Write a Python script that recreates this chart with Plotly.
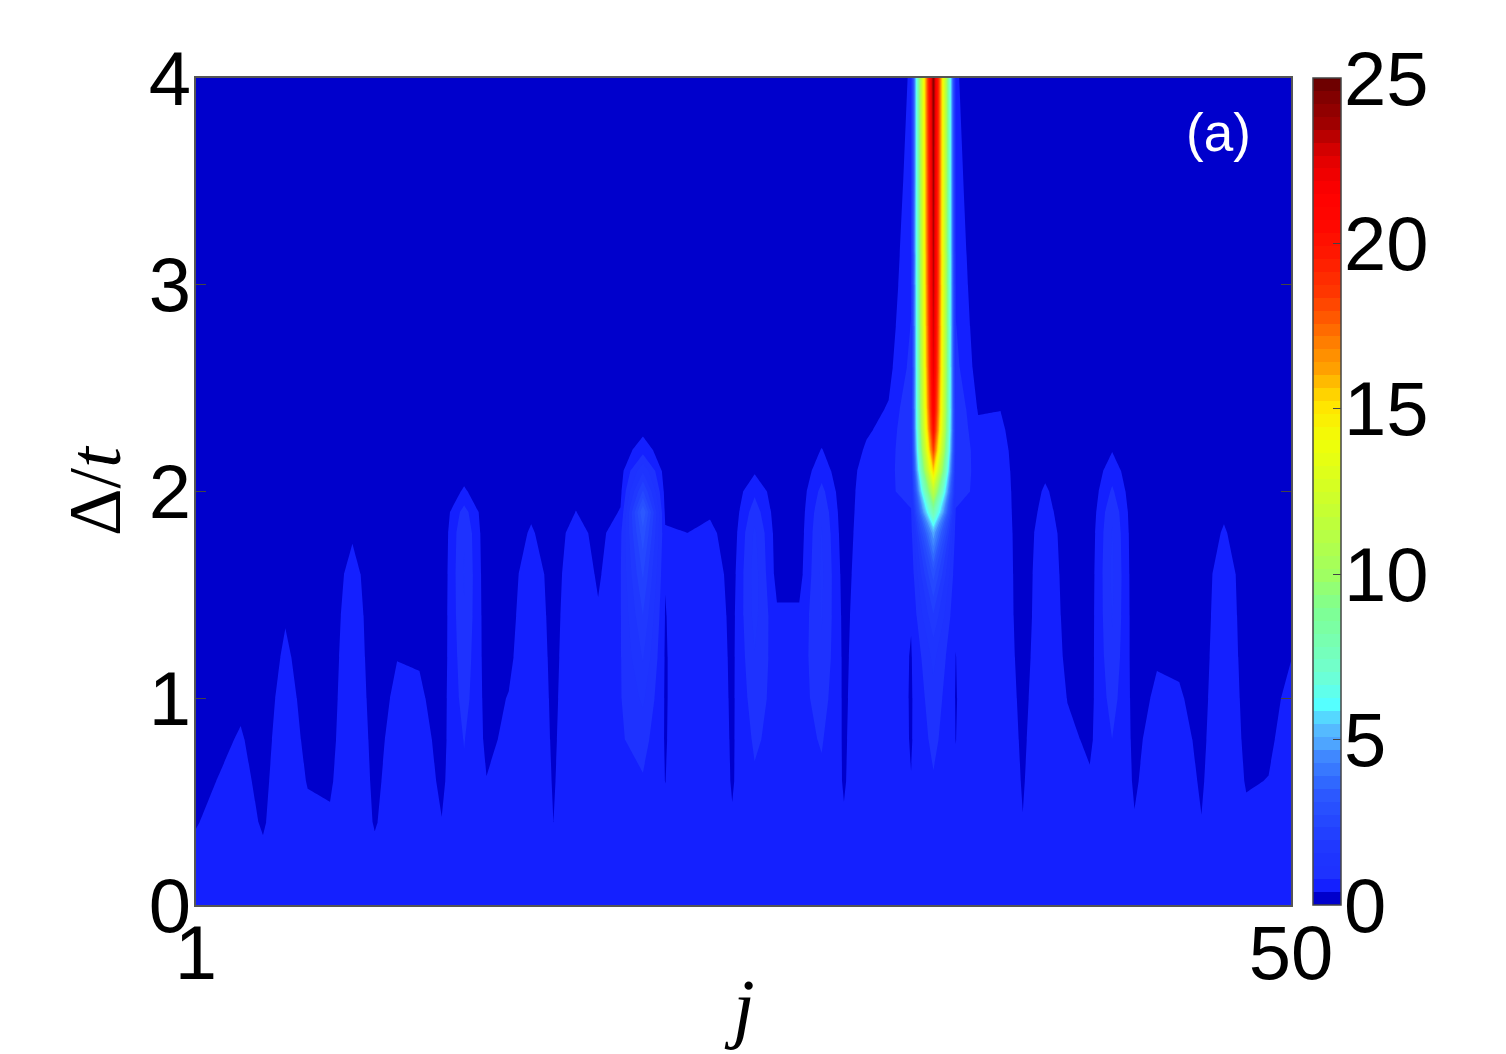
import numpy as np
import plotly.graph_objects as go

sites = list(range(1, 51))
delta = [0, .2, .4, .6, .8, 1.0, 1.2, 1.4, 1.6, 1.8, 1.9, 2.0, 2.1, 2.2, 2.3, 2.4, 2.6, 2.8, 3.0, 3.5, 4.0]

# one list per site j, values read at each delta above
site_values = [
 [.6,.5,.37,.3,.25,.2,.16,.12,.1,.08,.07,.06,.06,.05,.05,.05,.04,.04,.03,.03,.02],
 [.6,.58,.5,.4,.32,.27,.22,.17,.13,.1,.09,.08,.07,.06,.06,.05,.05,.04,.04,.03,.02],
 [.6,.6,.55,.48,.42,.33,.26,.2,.15,.12,.1,.09,.08,.07,.06,.06,.05,.04,.04,.03,.02],
 [.6,.48,.35,.3,.25,.2,.15,.11,.09,.07,.06,.06,.05,.05,.04,.04,.04,.03,.03,.02,.02],
 [.6,.62,.64,.63,.6,.55,.46,.36,.27,.2,.17,.15,.13,.11,.1,.09,.08,.06,.05,.04,.03],
 [.6,.58,.48,.37,.3,.24,.2,.16,.13,.1,.09,.08,.07,.06,.06,.05,.05,.04,.04,.03,.02],
 [.6,.55,.44,.34,.27,.22,.18,.14,.11,.09,.08,.07,.07,.06,.05,.05,.04,.04,.03,.03,.02],
 [.62,.64,.68,.7,.72,.72,.7,.66,.56,.33,.28,.22,.18,.14,.12,.1,.08,.07,.06,.04,.03],
 [.6,.5,.36,.31,.26,.2,.15,.12,.1,.08,.07,.06,.06,.05,.05,.04,.04,.03,.03,.02,.02],
 [.6,.6,.6,.58,.55,.48,.38,.28,.2,.15,.13,.11,.1,.09,.08,.07,.06,.05,.05,.03,.02],
 [.6,.6,.59,.57,.53,.45,.36,.26,.19,.14,.12,.11,.1,.09,.08,.07,.06,.05,.05,.03,.02],
 [.6,.53,.4,.33,.28,.23,.18,.14,.11,.09,.07,.06,.06,.05,.05,.04,.04,.03,.03,.02,.02],
 [.62,.63,.66,.72,.8,.95,1.05,1.15,1.2,1.15,.95,.45,.22,.15,.12,.1,.08,.07,.06,.04,.03],
 [.6,.58,.5,.4,.32,.26,.21,.17,.13,.1,.09,.08,.07,.06,.06,.05,.05,.04,.04,.03,.02],
 [.6,.6,.58,.52,.46,.41,.3,.24,.18,.14,.12,.11,.1,.09,.08,.07,.06,.05,.05,.03,.02],
 [.62,.64,.68,.71,.73,.74,.73,.7,.66,.44,.32,.26,.2,.15,.12,.1,.08,.07,.06,.04,.03],
 [.6,.53,.39,.36,.33,.3,.27,.24,.2,.14,.1,.08,.06,.05,.05,.04,.04,.03,.03,.02,.02],
 [.62,.64,.68,.71,.73,.74,.74,.73,.7,.6,.4,.28,.2,.15,.12,.1,.08,.07,.06,.04,.03],
 [.6,.61,.62,.62,.6,.57,.52,.44,.33,.22,.18,.15,.13,.11,.1,.08,.07,.06,.05,.04,.03],
 [.62,.64,.68,.71,.74,.76,.76,.76,.76,.7,.42,.3,.22,.16,.13,.11,.09,.07,.06,.04,.03],
 [.62,.64,.68,.74,.95,1.25,1.6,1.95,2.4,3.0,3.5,2.4,1.5,.6,.28,.2,.13,.1,.08,.05,.04],
 [.6,.58,.48,.385,.36,.35,.35,.37,.41,.44,.31,.25,.19,.14,.12,.1,.08,.07,.06,.04,.03],
 [.62,.64,.68,.71,.73,.74,.74,.72,.62,.39,.3,.24,.18,.14,.12,.1,.08,.07,.06,.04,.03],
 [.62,.64,.68,.71,.73,.74,.74,.73,.68,.5,.33,.25,.19,.15,.12,.1,.08,.07,.06,.04,.03],
 [.6,.55,.42,.36,.34,.32,.3,.27,.22,.15,.12,.1,.09,.08,.07,.06,.05,.05,.04,.03,.02],
 [.62,.63,.66,.72,.85,1.0,1.15,1.3,1.35,1.25,1.0,.7,.33,.2,.14,.11,.09,.07,.06,.04,.03],
 [.6,.62,.64,.64,.62,.6,.55,.46,.24,.2,.17,.14,.12,.1,.09,.08,.07,.06,.05,.04,.03],
 [.6,.62,.64,.64,.62,.6,.55,.46,.24,.18,.16,.14,.12,.1,.09,.08,.07,.06,.05,.04,.03],
 [.62,.63,.66,.7,.82,.98,1.12,1.2,1.25,1.2,1.1,.9,.61,.41,.25,.16,.11,.08,.06,.04,.03],
 [.6,.55,.42,.36,.34,.32,.3,.27,.22,.15,.12,.1,.09,.08,.07,.06,.05,.05,.04,.03,.02],
 [.62,.64,.66,.69,.71,.72,.72,.72,.72,.72,.7,.67,.6,.45,.33,.26,.18,.13,.1,.06,.04],
 [.62,.63,.66,.69,.71,.72,.72,.72,.72,.72,.72,.7,.66,.6,.53,.42,.28,.2,.16,.1,.07],
 [.6,.58,.5,.4,.36,.35,.36,.42,.5,.62,.74,.96,1.1,1.2,1.2,1.15,.9,.8,.7,.55,.45],
 [.62,.63,.66,.74,.9,1.05,1.28,1.9,2.9,5,8,11.5,15.5,18.5,20.5,21.5,22.5,23,23.4,23.9,24.4],
 [.6,.58,.52,.44,.385,.37,.385,.43,.5,.62,.74,.96,1.1,1.2,1.2,1.15,.9,.8,.7,.55,.45],
 [.62,.64,.66,.69,.71,.72,.72,.72,.72,.72,.7,.68,.64,.58,.46,.36,.22,.16,.13,.08,.06],
 [.62,.64,.66,.69,.71,.72,.72,.72,.72,.72,.7,.68,.64,.58,.48,.38,.2,.15,.12,.08,.05],
 [.6,.54,.4,.36,.32,.27,.21,.16,.14,.11,.09,.08,.07,.06,.06,.05,.05,.04,.03,.03,.02],
 [.62,.64,.67,.7,.72,.73,.73,.72,.71,.66,.55,.45,.3,.18,.13,.1,.08,.07,.06,.04,.03],
 [.6,.6,.58,.52,.47,.38,.3,.25,.21,.17,.14,.12,.1,.09,.08,.07,.06,.05,.05,.03,.02],
 [.6,.58,.52,.43,.33,.27,.23,.2,.17,.14,.11,.09,.08,.07,.06,.05,.05,.04,.04,.03,.02],
 [.62,.63,.66,.7,.78,.95,1.1,1.2,1.25,1.2,1.1,.85,.6,.37,.25,.16,.11,.08,.06,.04,.03],
 [.6,.54,.41,.35,.31,.25,.19,.16,.13,.11,.09,.08,.07,.06,.06,.05,.05,.04,.03,.03,.02],
 [.6,.6,.59,.57,.53,.45,.36,.26,.19,.14,.12,.11,.1,.09,.08,.07,.06,.05,.05,.03,.02],
 [.6,.6,.58,.56,.52,.43,.33,.25,.18,.13,.12,.11,.1,.09,.08,.07,.06,.05,.05,.03,.02],
 [.6,.53,.4,.35,.3,.25,.2,.15,.12,.1,.08,.07,.06,.05,.05,.04,.04,.03,.03,.02,.02],
 [.62,.64,.67,.7,.72,.73,.73,.72,.68,.44,.32,.25,.19,.14,.12,.1,.08,.07,.06,.04,.03],
 [.6,.56,.47,.36,.3,.25,.2,.16,.13,.1,.09,.08,.07,.06,.06,.05,.05,.04,.04,.03,.02],
 [.6,.58,.5,.4,.33,.28,.23,.18,.14,.11,.1,.09,.08,.07,.06,.05,.05,.04,.04,.03,.02],
 [.6,.6,.6,.58,.55,.48,.38,.28,.2,.15,.13,.11,.1,.09,.08,.07,.06,.05,.05,.03,.02],
]

bar_ticks = [0, 5, 10, 15, 20, 25]
y_ticks = [0, 1, 2, 3, 4]
x_ticks = [1, 50]

color_values = [0, .195, .586, .977, 1.37, 1.76, 2.15, 2.54, 2.93, 3.32, 3.71, 4.1, 4.49, 4.88, 5.27, 5.66, 6.05,
                7, 8, 9, 10, 12, 14, 15, 15.5, 16.2, 16.8, 17.6, 18.5, 19.5, 20.5, 21.5, 22.4, 23, 23.6, 24.3, 25]
color_hex = ["#0000cc", "#0000cc", "#1420ff", "#1e32ff", "#1e34ff", "#2038ff", "#2240ff", "#2548ff", "#2850ff",
             "#2c58ff", "#3068ff", "#3878ff", "#4088ff", "#4ea5ff", "#55baff", "#55d8ff", "#55ffff",
             "#70ffd0", "#78ffb0", "#80ff90", "#a0ff60", "#c8ff30", "#f0ff08", "#ffe800", "#ffd000", "#ffa000",
             "#ff8800", "#ff6000", "#ff3800", "#ff1c00", "#ff0800", "#ff0000", "#e80000", "#cc0000", "#a00000",
             "#880000", "#640000"]

z = np.array(site_values).T
scale = [[v / 25, c] for v, c in zip(color_values, color_hex)]
FONT = "Liberation Sans"
TICK = 76
W, H = 1506, 1054
L, R, T, B = 196, 1291, 78, 905


def px(x):
    return (x - L) / (R - L)


def py(y):
    return (B - y) / (B - T)


fig = go.Figure(go.Contour(
    x=sites, y=delta, z=z, zmin=0, zmax=25, zauto=False,
    colorscale=scale,
    autocontour=False,
    contours=dict(start=0, end=25, size=25 / 64, coloring="fill", showlines=False),
    line=dict(width=0, smoothing=0),
    colorbar=dict(
        x=px(1313), xanchor="left", thickness=28, thicknessmode="pixels",
        len=1, lenmode="fraction", y=0.5, yanchor="middle", ypad=0, xpad=0,
        tickmode="array", tickvals=bar_ticks, ticktext=["" for t in bar_ticks],
        ticks="inside", ticklen=8, tickcolor="#444", tickwidth=1,
        outlinecolor="#444", outlinewidth=1.5,
    ),
))

axis = dict(showgrid=False, zeroline=False, showline=True, linecolor="#555", linewidth=1.5, mirror="all",
            ticks="inside", ticklen=10, tickcolor="#444", tickwidth=1, automargin=False,
            tickfont=dict(family=FONT, size=TICK, color="black"))
fig.update_xaxes(range=[1, 50], tickmode="array", tickvals=x_ticks, ticktext=[str(t) for t in x_ticks],
                 ticklabelstandoff=-19, **axis)
fig.update_yaxes(range=[0, 4], tickmode="array", tickvals=y_ticks, ticktext=[str(t) for t in y_ticks],
                 ticklabelstandoff=-12, **axis)

notes = [dict(text="(a)", x=px(1218), y=py(132), font=dict(family=FONT, size=53, color="white")),
         dict(text="<i>j</i>", x=px(739), y=py(1006), font=dict(family="Liberation Serif", size=78, color="black")),
         dict(text="Δ/<i>t</i>", x=px(95), y=py(491), textangle=-90,
              font=dict(family="Liberation Serif", size=74, color="black"))]
for t in bar_ticks:
    notes.append(dict(text=str(t), x=px(1342), y=t / 25, xanchor="left",
                      font=dict(family=FONT, size=TICK, color="black")))
for n in notes:
    n.setdefault("xanchor", "center")
    n.update(yanchor="middle", xref="paper", yref="paper", showarrow=False)

fig.update_layout(
    width=W, height=H, autosize=False,
    margin=dict(l=L, r=W - R, t=T, b=H - B, pad=0),
    paper_bgcolor="white", plot_bgcolor="white", showlegend=False,
    annotations=notes,
)
fig.write_html("out.html", config=dict(displayModeBar=False), post_script="document.body.style.margin='0';")
